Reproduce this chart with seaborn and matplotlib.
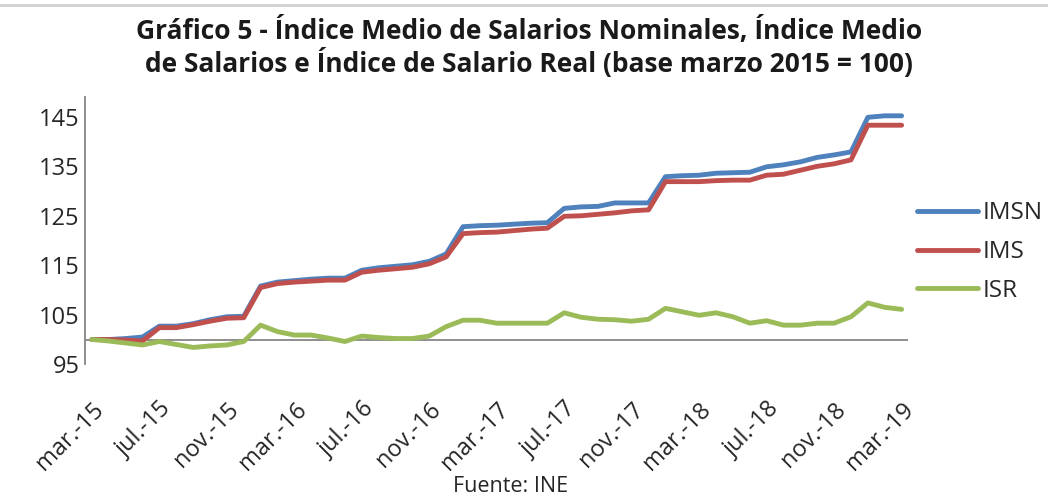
import numpy as np
import pandas as pd
import matplotlib
matplotlib.use("Agg")
import matplotlib.pyplot as plt
import seaborn as sns

months = ["mar.-15", "abr.-15", "may.-15", "jun.-15", "jul.-15", "ago.-15", "set.-15", "oct.-15", "nov.-15", "dic.-15",
          "ene.-16", "feb.-16", "mar.-16", "abr.-16", "may.-16", "jun.-16", "jul.-16", "ago.-16", "set.-16", "oct.-16",
          "nov.-16", "dic.-16", "ene.-17", "feb.-17", "mar.-17", "abr.-17", "may.-17", "jun.-17", "jul.-17", "ago.-17",
          "set.-17", "oct.-17", "nov.-17", "dic.-17", "ene.-18", "feb.-18", "mar.-18", "abr.-18", "may.-18", "jun.-18",
          "jul.-18", "ago.-18", "set.-18", "oct.-18", "nov.-18", "dic.-18", "ene.-19", "feb.-19", "mar.-19"]

imsn = [100.0, 100.0, 100.2, 100.5, 102.7, 102.7, 103.2, 104.0, 104.6, 104.7,
        110.8, 111.6, 111.9, 112.2, 112.4, 112.4, 114.0, 114.5, 114.8, 115.1,
        115.8, 117.3, 122.8, 123.0, 123.1, 123.3, 123.5, 123.6, 126.5, 126.8,
        126.9, 127.6, 127.6, 127.6, 132.9, 133.1, 133.2, 133.6, 133.7, 133.8,
        134.9, 135.3, 135.9, 136.8, 137.3, 137.9, 144.9, 145.2, 145.2]

ims = [100.0, 100.0, 99.9, 99.7, 102.4, 102.4, 103.0, 103.7, 104.3, 104.4,
       110.5, 111.3, 111.6, 111.8, 112.0, 112.0, 113.6, 114.0, 114.3, 114.6,
       115.3, 116.7, 121.4, 121.6, 121.7, 122.0, 122.3, 122.5, 124.9, 125.0,
       125.3, 125.6, 126.0, 126.2, 131.9, 131.9, 131.9, 132.1, 132.2, 132.2,
       133.2, 133.4, 134.2, 135.0, 135.5, 136.3, 143.3, 143.3, 143.3]

isr = [100.0, 99.7, 99.3, 98.9, 99.6, 99.0, 98.4, 98.7, 98.9, 99.6,
       102.9, 101.6, 100.9, 100.9, 100.3, 99.6, 100.7, 100.4, 100.2, 100.2,
       100.7, 102.6, 103.9, 103.9, 103.3, 103.3, 103.3, 103.3, 105.4, 104.5,
       104.1, 104.0, 103.7, 104.1, 106.3, 105.6, 104.9, 105.4, 104.6, 103.3,
       103.8, 102.9, 102.9, 103.3, 103.3, 104.6, 107.4, 106.5, 106.1]

series_names = ["IMSN", "IMS", "ISR"]
colors = ["#4F81BD", "#C0504D", "#9BBB59"]
yticks = [95, 105, 115, 125, 135, 145]

title = "Gráfico 5 - Índice Medio de Salarios Nominales, Índice Medio\nde Salarios e Índice de Salario Real (base marzo 2015 = 100)"
source = "Fuente: INE"

idx = np.arange(len(months))
df = pd.DataFrame({
    "i": np.tile(idx, 3),
    "valor": imsn + ims + isr,
    "serie": np.repeat(series_names, len(months)),
})

sns.set_theme(style="white")
plt.rcParams["font.family"] = ["Open Sans", "DejaVu Sans"]

fig = plt.figure(figsize=(10.48, 4.99), dpi=100)
ax = fig.add_axes([0.0811, 0.270, 0.785, 0.5356])

sns.lineplot(data=df, x="i", y="valor", hue="serie", hue_order=series_names,
             palette=colors, linewidth=3.5, ax=ax, legend=True)

ax.axhline(100, color="#868686", lw=1.3, zorder=1)
ax.set_xlim(-0.41, 48.36)
ax.set_ylim(95, 149)
ax.set_yticks(yticks)
ax.set_yticklabels([str(v) for v in yticks], fontsize=17, color="#262626")
ax.set_xticks(idx[::4])
ax.set_xticklabels([months[k] for k in idx[::4]], rotation=45, ha="right",
                   rotation_mode="anchor", fontsize=17, color="#262626")
ax.tick_params(axis="x", length=0, pad=24)
ax.tick_params(axis="y", length=0, pad=4)
ax.set_xlabel("")
ax.set_ylabel("")
for s in ["top", "right", "bottom"]:
    ax.spines[s].set_visible(False)
ax.spines["left"].set_color("#868686")
ax.spines["left"].set_linewidth(1.3)

leg = ax.legend(loc="center left", bbox_to_anchor=(1.0, 0.42), frameon=False,
                fontsize=17.5, handlelength=2.5, handletextpad=0.2, labelspacing=0.6,
                borderaxespad=0.0, borderpad=0.4)
for t in leg.get_texts():
    t.set_color("#262626")

fig.text(0.505, 0.856, title, ha="center", va="baseline", fontsize=19,
         fontweight="bold", color="#1a1a1a", linespacing=1.12)
fig.text(0.487, 0.025, source, ha="center", va="center", fontsize=15.5, color="#262626")
fig.add_artist(plt.Line2D([0, 1], [0.989, 0.989], color="#d0d0d0", lw=2, transform=fig.transFigure))

fig.savefig("out.png", dpi=100)
